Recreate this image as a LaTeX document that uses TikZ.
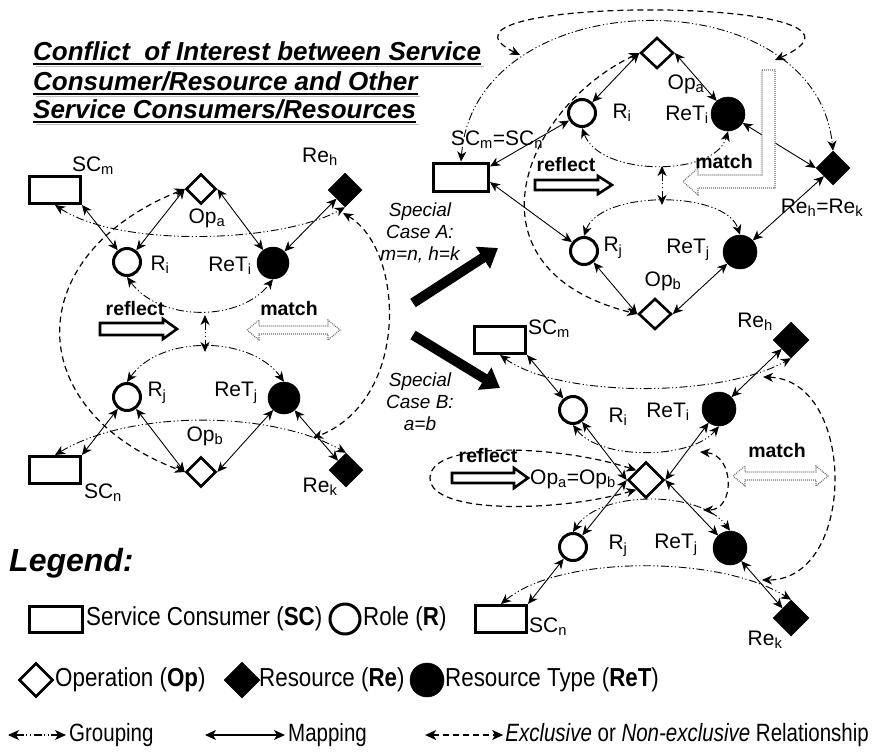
\documentclass[tikz,border=0pt]{standalone}
\usepackage{fontspec}
\setmainfont{Liberation Sans}
\newfontfamily\narrowfont[FakeStretch=0.86]{Liberation Sans}
\newfontfamily\narrowerfont[FakeStretch=0.82]{Liberation Sans}
\usetikzlibrary{arrows.meta,shapes.geometric}
\begin{document}
\begin{tikzpicture}[x=1pt,y=-1pt,
  >={Stealth[length=10pt,width=9pt,inset=3pt]},
  map/.style={line width=0.9pt,<->},
  grp/.style={line width=0.9pt,<->,dash pattern=on 8pt off 2.5pt on 1.2pt off 2.5pt on 1.2pt off 2.5pt},
  excl/.style={line width=1.2pt,<->,dash pattern=on 6pt off 4pt},
  scbox/.style={draw,line width=3pt,minimum width=51pt,minimum height=27pt,inner sep=0pt,fill=white},
  rolec/.style={circle,draw,line width=3pt,minimum size=27pt,inner sep=0pt,fill=white},
  retc/.style={circle,fill=black,draw,line width=0.5pt,minimum size=32pt,inner sep=0pt},
  opd/.style={diamond,draw,line width=2.6pt,minimum width=30pt,minimum height=30pt,inner sep=0pt,fill=white},
  red/.style={diamond,fill=black,draw,line width=0.5pt,minimum width=34pt,minimum height=34pt,inner sep=0pt},
  lbl/.style={font=\fontsize{21}{21}\selectfont,inner sep=0pt},
  kw/.style={font=\bfseries\fontsize{19.5}{20}\selectfont,inner sep=0pt},
  case/.style={font=\itshape\fontsize{19}{22}\selectfont,align=center,inner sep=0pt},
  ttl/.style={font=\bfseries\itshape\fontsize{26}{26}\selectfont,inner sep=0pt,anchor=base west},
  hollow/.style={draw,line width=2.6pt,fill=white,line join=miter},
  matchar/.style={draw=black!55,line width=1.1pt,dash pattern=on 1pt off 1pt,fill=white},
  bigarrow/.style={line width=10pt,-{Triangle[length=18pt,width=25pt]}},
  lgt/.style={font=\narrowfont\fontsize{26}{26}\selectfont,inner sep=0pt,anchor=west},
  lgt3/.style={font=\narrowerfont\fontsize{25}{25}\selectfont,inner sep=0pt},
  lgarrow/.style={line width=1.1pt,>={Stealth[length=11pt,width=10pt,inset=3pt]}}
]
\useasboundingbox (0,0) rectangle (874,752);

% ---------------- Title ----------------
\node[ttl] (t1) at (33,60) {Conflict\ \ of Interest between Service};
\node[ttl] (t2) at (33,90) {Consumer/Resource and Other};
\node[ttl] (t3) at (33,118) {Service Consumers/Resources};
\foreach \t in {t1,t2,t3}{
  \draw[line width=1.8pt,black!25] ([xshift=2.5pt,yshift=-6.5pt]\t.base west) -- ([xshift=2.5pt,yshift=-6.5pt]\t.base east);
  \draw[line width=1.6pt] ([yshift=-4pt]\t.base west) -- ([yshift=-4pt]\t.base east);
}

% ---------------- Left diagram ----------------
\node[scbox] (scmL) at (55,190) {};
\node[opd] (opaL) at (201,189) {};
\node[red] (rehL) at (345,190) {};
\node[rolec] (riL) at (127,262) {};
\node[retc] (retiL) at (273,263) {};
\node[rolec] (rjL) at (127,397) {};
\node[retc] (retjL) at (284,398) {};
\node[opd] (opbL) at (201,472) {};
\node[scbox] (sncL) at (55,470) {};
\node[red] (rekL) at (346,470) {};

\node[lbl] (lscmL) at (93,166) {SC\textsubscript{m}};
\node[lbl] (lopaL) at (207,218) {Op\textsubscript{a}};
\node[lbl] (lrehL) at (320,157) {Re\textsubscript{h}};
\node[lbl] (lriL) at (160,265) {R\textsubscript{i}};
\node[lbl] (lretiL) at (230,266) {ReT\textsubscript{i}};
\node[lbl] (lrjL) at (157,393) {R\textsubscript{j}};
\node[lbl] (lretjL) at (236,393) {ReT\textsubscript{j}};
\node[lbl] (lopbL) at (205,436) {Op\textsubscript{b}};
\node[lbl] (lsncL) at (103,493) {SC\textsubscript{n}};
\node[lbl] (lrekL) at (320,487) {Re\textsubscript{k}};
\node[kw] (reflL) at (135,309) {reflect};
\node[kw] (matchL) at (289,309) {match};

\coordinate (gA1) at (205,315);
\coordinate (gA2) at (205,352);
\coordinate (xh) at (343,213);
\coordinate (xk) at (313,438);

\draw[grp] (scmL.south) .. controls (120,248) and (280,243) .. (rehL.south);
\draw[grp] (riL.south) .. controls (160,322) and (240,322) .. (retiL.south);
\draw[grp] (gA1) -- (gA2);
\draw[grp] (rjL.north) .. controls (160,335) and (250,335) .. (retjL.north);
\draw[grp] (sncL.north) .. controls (130,410) and (270,410) .. (rekL.north);
\draw[excl] (opaL.west) .. controls (20,255) and (20,410) .. (opbL.west);
\draw[excl] (xh) .. controls (405,250) and (410,400) .. (xk);

\draw[map] (scmL.south east) -- (riL);
\draw[map] (riL) -- (opaL.west);
\draw[map] (opaL.east) -- (retiL);
\draw[map] (retiL) -- (rehL);
\draw[map] (sncL.north east) -- (rjL);
\draw[map] (rjL) -- (opbL.west);
\draw[map] (opbL.east) -- (retjL);
\draw[map] (retjL) -- (rekL);

\draw[hollow] (100,323) -- (163,323) -- (163,319) -- (177,329) -- (163,339) -- (163,335) -- (100,335) -- cycle;
\draw[matchar] (247,330) -- (259,320) -- (259,326) -- (328,326) -- (328,320) -- (340,330) -- (328,340) -- (328,334) -- (259,334) -- (259,340) -- cycle;

% ---------------- Special case arrows ----------------
\node[case] (caseA) at (420,233) {Special\\Case A:\\m=n, h=k};
\node[case] (caseB) at (420,402) {Special\\Case B:\\a=b};
\coordinate (bA1) at (413,303);
\coordinate (bA2) at (498,248);
\coordinate (bB1) at (413,335);
\coordinate (bB2) at (500,388);
\draw[bigarrow] (bA1) -- (bA2);
\draw[bigarrow] (bB1) -- (bB2);

% ---------------- Top right (Case A) ----------------
\node[scbox,minimum width=55pt,minimum height=28pt] (scA) at (461,177) {};
\node[opd,minimum width=33pt,minimum height=31pt] (opaA) at (657,53) {};
\node[rolec] (riA) at (582,113) {};
\node[retc,minimum size=34pt] (retiA) at (728,114) {};
\node[red] (rehkA) at (833,168) {};
\node[rolec] (rjA) at (584,251) {};
\node[retc,minimum size=34pt] (retjA) at (740,252) {};
\node[opd,minimum width=33pt,minimum height=31pt] (opbA) at (655,314) {};

\node[lbl] (lscA) at (497,140) {SC\textsubscript{m}=SC\textsubscript{n}};
\node[lbl] (lopaA) at (686,84) {Op\textsubscript{a}};
\node[lbl] (lriA) at (622,113) {R\textsubscript{i}};
\node[lbl] (lretiA) at (687,115) {ReT\textsubscript{i}};
\node[lbl] (lrehkA) at (822,208) {Re\textsubscript{h}=Re\textsubscript{k}};
\node[lbl] (lrjA) at (613,248) {R\textsubscript{j}};
\node[lbl] (lretjA) at (688,250) {ReT\textsubscript{j}};
\node[lbl] (lopbA) at (663,281) {Op\textsubscript{b}};

\coordinate (tA1) at (520,55);
\coordinate (tA2) at (775,60);
\coordinate (gB1) at (662,166);
\coordinate (gB2) at (662,205);

\draw[grp] (scA.north) .. controls (475,-20) and (815,-25) .. (rehkA.north);
\draw[excl] (tA1) .. controls (400,-5) and (920,-5) .. (tA2);
\draw[excl] (opaA.west) .. controls (520,110) and (460,270) .. (opbA.west);
\draw[grp] (riA.south) .. controls (600,177) and (715,177) .. (retiA.south);
\draw[grp] (gB1) -- (gB2);
\draw[grp] (rjA.north) .. controls (600,190) and (725,190) .. (retjA.north);

\draw[map] (scA.20) -- (riA);
\draw[map] (riA) -- (opaA.west);
\draw[map] (opaA.east) -- (retiA);
\draw[map] (retiA) -- (rehkA.west);
\draw[map] (scA.-10) -- (rjA);
\draw[map] (rjA) -- (opbA.west);
\draw[map] (opbA.east) -- (retjA);
\draw[map] (retjA) -- (rehkA);

\draw[hollow] (535,180) -- (598,180) -- (598,176) -- (612,185) -- (598,194) -- (598,190) -- (535,190) -- cycle;
\draw[matchar] (762,70) -- (775,70) -- (775,188) -- (698,188) -- (698,195) -- (683,181.5) -- (698,168) -- (698,175) -- (762,175) -- cycle;
\node[kw] (reflA) at (566,165) {reflect};
\node[kw] (matchA) at (724,162) {match};

% ---------------- Bottom right (Case B) ----------------
\node[scbox] (scmB) at (500,340) {};
\node[red,minimum width=36pt,minimum height=36pt] (rehB) at (791,340) {};
\node[rolec] (riB) at (573,410) {};
\node[retc,minimum size=34pt] (retiB) at (719,409) {};
\node[opd,minimum width=36pt,minimum height=36pt] (opB) at (646,480) {};
\node[rolec] (rjB) at (573,547) {};
\node[retc,minimum size=34pt] (retjB) at (730,548) {};
\node[scbox] (scnB) at (501,619) {};
\node[red,minimum width=36pt,minimum height=36pt] (rekB) at (791,618) {};

\node[lbl] (lscmB) at (549,329) {SC\textsubscript{m}};
\node[lbl] (lrehB) at (755,322) {Re\textsubscript{h}};
\node[lbl] (lriB) at (618,417) {R\textsubscript{i}};
\node[lbl] (lretiB) at (668,412) {ReT\textsubscript{i}};
\node[lbl] (lopB) at (573,479) {Op\textsubscript{a}=Op\textsubscript{b}};
\node[lbl] (lrjB) at (618,546) {R\textsubscript{j}};
\node[lbl] (lretjB) at (676,545) {ReT\textsubscript{j}};
\node[lbl] (lscnB) at (548,627) {SC\textsubscript{n}};
\node[lbl] (lrekB) at (765,640) {Re\textsubscript{k}};

\coordinate (oB1) at (763,377);
\coordinate (oB2) at (762,580);
\coordinate (iB1) at (700,452);
\coordinate (iB2) at (703,510);
\coordinate (lpB) at (430,478);

\draw[grp] (scmB.south) .. controls (560,398) and (720,398) .. (rehB.south);
\draw[grp] (riB.south) .. controls (600,460) and (690,460) .. (retiB.south);
\draw[grp] (rjB.north) .. controls (600,490) and (700,490) .. (retjB.north);
\draw[grp] (scnB.north) .. controls (560,555) and (720,555) .. (rekB.north);
\draw[excl] (oB1) .. controls (857,380) and (857,580) .. (oB2);
\draw[excl] (iB1) .. controls (735,455) and (735,510) .. (iB2);
\draw[excl] (opB.north west) .. controls (560,445) and (430,440) .. (lpB) .. controls (430,515) and (560,512) .. (opB.south west);

\draw[map] (scmB.south east) -- (riB);
\draw[map] (riB) -- (opB.west);
\draw[map] (retiB) -- (opB.east);
\draw[map] (retiB) -- (rehB);
\draw[map] (opB.west) -- (rjB);
\draw[map] (opB.east) -- (retjB);
\draw[map] (scnB.north east) -- (rjB);
\draw[map] (retjB) -- (rekB);

\draw[hollow] (452,473) -- (514,473) -- (514,468) -- (528,478) -- (514,488) -- (514,483) -- (452,483) -- cycle;
\draw[matchar] (733,476) -- (745,466) -- (745,472) -- (816,472) -- (816,466) -- (828,476) -- (816,486) -- (816,480) -- (745,480) -- (745,486) -- cycle;
\node[kw] (reflB) at (488,456) {reflect};
\node[kw] (matchB) at (777,451) {match};

% ---------------- Legend ----------------
\node[font=\bfseries\itshape\fontsize{32}{32}\selectfont,inner sep=0pt,anchor=west] (lgtitle) at (9,563) {Legend:};
\node[scbox,minimum width=53pt,minimum height=26pt] (lgSC) at (56,619) {};
\node[lgt] (lgSCt) at (86,619) {Service Consumer (\textbf{SC})};
\node[rolec,minimum size=30pt] (lgR) at (345,619) {};
\node[lgt] (lgRt) at (363,619) {Role (\textbf{R})};
\node[opd,minimum width=34pt,minimum height=34pt] (lgOp) at (36,680) {};
\node[lgt] (lgOpt) at (55,680) {Operation (\textbf{Op})};
\node[red,minimum width=36pt,minimum height=36pt] (lgRe) at (242,680) {};
\node[lgt] (lgRet) at (259,680) {Resource (\textbf{Re})};
\node[retc,minimum size=34pt] (lgReT) at (427,680) {};
\node[lgt] (lgReTt) at (445,680) {Resource Type (\textbf{ReT})};

\node[lgt3,anchor=east] (lgE) at (869,735) {\textit{Exclusive} or \textit{Non-exclusive} Relationship};
\coordinate (la1) at (8,735);
\coordinate (la2) at (66,735);
\coordinate (lb1) at (205,735);
\coordinate (lb2) at (285,735);
\draw[grp,lgarrow] (la1) -- (la2);
\node[lgt3,anchor=west] (lgG) at (69,735) {Grouping};
\draw[map,lgarrow] (lb1) -- (lb2);
\node[lgt3,anchor=west] (lgM) at (288,735) {Mapping};
\draw[excl,lgarrow] ([xshift=-80pt]lgE.west) -- ([xshift=-2pt]lgE.west);
\end{tikzpicture}
\end{document}
